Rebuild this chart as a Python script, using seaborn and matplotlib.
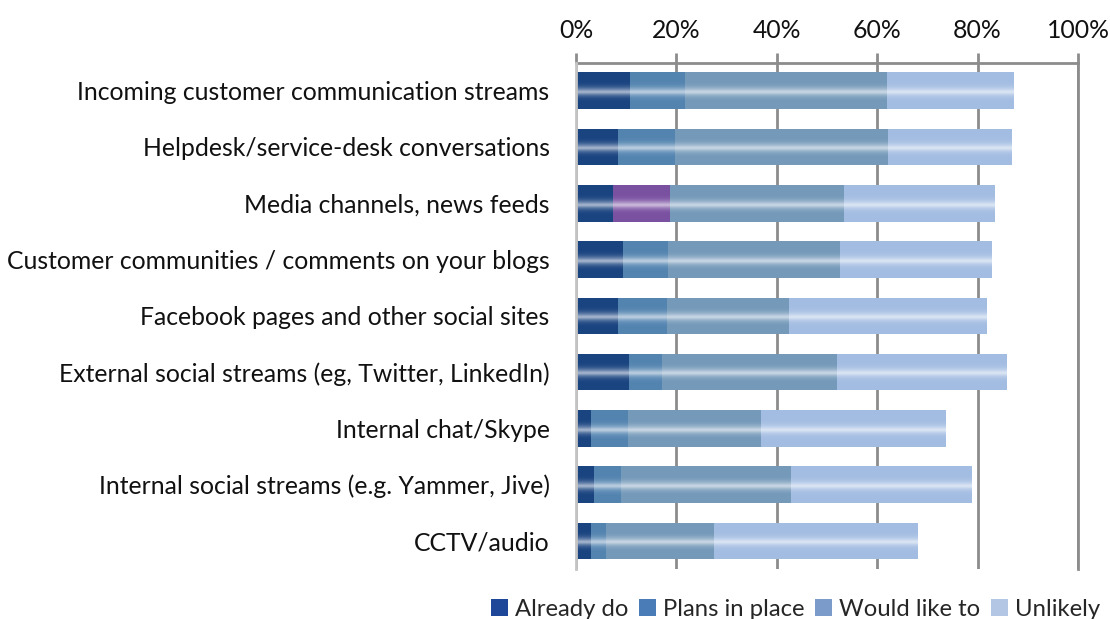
import numpy as np
import pandas as pd
import matplotlib
matplotlib.use("Agg")
import matplotlib.pyplot as plt
import seaborn as sns
from matplotlib.patches import Patch

# Survey data: share of respondents (%) per channel and adoption stage
categories = [
    "Incoming customer communication streams",
    "Helpdesk/service-desk conversations",
    "Media channels, news feeds",
    "Customer communities / comments on your blogs",
    "Facebook pages and other social sites",
    "External social streams (eg, Twitter, LinkedIn)",
    "Internal chat/Skype",
    "Internal social streams (e.g. Yammer, Jive)",
    "CCTV/audio",
]
already_do = [10.7, 8.3, 7.3, 9.4, 8.3, 10.5, 2.9, 3.6, 2.9]
plans_in_place = [11.0, 11.4, 11.5, 8.9, 9.8, 6.6, 7.4, 5.3, 3.0]
would_like_to = [40.2, 42.5, 34.5, 34.2, 24.3, 34.8, 26.5, 34.0, 21.5]
unlikely = [25.3, 24.6, 30.2, 30.4, 39.5, 34.0, 37.0, 35.9, 40.8]

series_names = ["Already do", "Plans in place", "Would like to", "Unlikely"]
series_values = [already_do, plans_in_place, would_like_to, unlikely]
tick_labels = ["0%", "20%", "40%", "60%", "80%", "100%"]

bar_colors = ["#1a4480", "#5384b0", "#7499b9", "#a3bde2"]
legend_colors = ["#1f4799", "#4a7cb8", "#7b9ccb", "#b3c6e3"]
highlight_color = "#7a50a1"
highlight_row = "Media channels, news feeds"

sns.set_theme(style="white")
plt.rcParams["font.family"] = ["Lato", "DejaVu Sans"]
FS = 17.8

W, H = 1110, 619
fig = plt.figure(figsize=(W / 100, H / 100), dpi=100)
ax = fig.add_axes([576 / W, 1 - 569 / H, (1078 - 576) / W, (569 - 62.6) / H])

df = pd.DataFrame({"category": categories})
for name, vals in zip(series_names, series_values):
    df[name] = np.array(vals) / 100.0
cum = df[series_names].cumsum(axis=1)

# Stacked bars: draw cumulative totals from the outermost layer inward
bar_h = 0.65
for i in reversed(range(len(series_names))):
    name = series_names[i]
    palette = [
        highlight_color if (name == "Plans in place" and c == highlight_row) else bar_colors[i]
        for c in categories
    ]
    sns.barplot(
        x=cum[name].values, y=df["category"], hue=df["category"],
        palette=palette, orient="h", width=bar_h, errorbar=None,
        legend=False, linewidth=0, saturation=1, ax=ax,
    )

# Soft glossy horizontal band across each bar
ylim = ax.get_ylim()
t = np.linspace(0, 1, 200)
band = 0.42 * np.exp(-((t - 0.53) / 0.13) ** 2) + 0.18 * np.exp(-((t - 0.54) / 0.05) ** 2)
gloss = np.zeros((len(t), 2, 4))
gloss[..., :3] = 1.0
gloss[..., 3] = np.clip(band, 0, 1)[:, None]
total_patches = ax.patches[: len(categories)]
for p in total_patches:
    x0, y0 = p.get_x(), p.get_y()
    im = ax.imshow(gloss, extent=[x0, x0 + p.get_width(), y0 + p.get_height(), y0],
                   aspect="auto", interpolation="bilinear", zorder=3)
    im.set_clip_path(p)
ax.set_ylim(ylim)
ax.set_xlim(0, 1)

# Axes styling: percentage scale along the top
grid_c = "#8c8c8c"
ax.set_xticks(np.linspace(0, 1, 6))
ax.set_xticklabels(tick_labels)
ax.xaxis.tick_top()
ax.tick_params(axis="x", top=True, bottom=False, length=7, width=2, color=grid_c,
               pad=8, labelsize=FS, labelcolor="#111111")
ax.tick_params(axis="y", left=False, length=0, pad=19, labelsize=FS, labelcolor="#111111")
ax.set_xlabel("")
ax.set_ylabel("")
ax.set_axisbelow(True)
ax.grid(axis="x", color=grid_c, linewidth=2)
ax.grid(axis="y", visible=False)
for side in ["top", "right"]:
    ax.spines[side].set_color(grid_c)
    ax.spines[side].set_linewidth(2)
ax.spines["left"].set_color("#c4c4c4")
ax.spines["left"].set_linewidth(2)
ax.spines["left"].set_zorder(5)
ax.spines["bottom"].set_visible(False)

handles = [Patch(facecolor=c, edgecolor="none") for c in legend_colors]
fig.legend(handles, series_names, loc="lower right", bbox_to_anchor=(1.004, -0.024),
           ncol=4, frameon=False, fontsize=17.2, handlelength=0.7, handleheight=0.7,
           handletextpad=0.3, columnspacing=0.45, borderaxespad=0.2)

fig.savefig("out.png", dpi=100)
